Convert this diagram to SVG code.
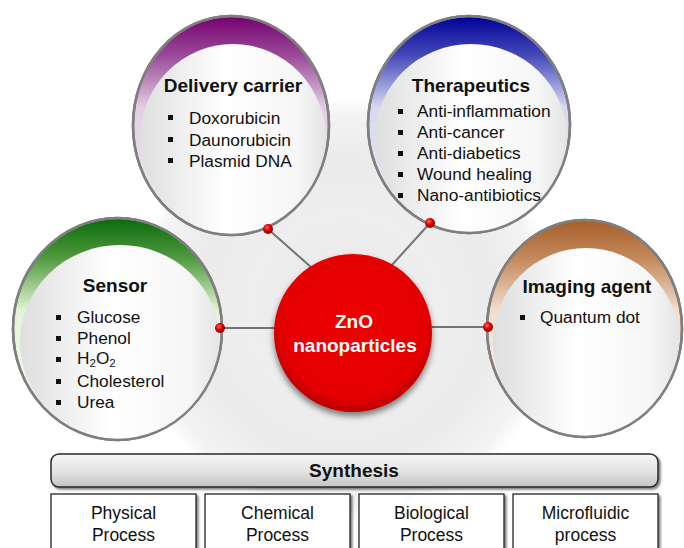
<svg xmlns="http://www.w3.org/2000/svg" width="684" height="548" viewBox="0 0 684 548">
  <defs>
    <radialGradient id="halo" cx="345" cy="310" r="212" gradientUnits="userSpaceOnUse">
      <stop offset="0" stop-color="#e8e8e8"/>
      <stop offset="0.45" stop-color="#eeeeee"/>
      <stop offset="0.7" stop-color="#ebebeb"/>
      <stop offset="0.92" stop-color="#f3f3f3"/>
      <stop offset="1" stop-color="#ffffff"/>
    </radialGradient>
    <linearGradient id="inner" x1="0" y1="0" x2="1" y2="0">
      <stop offset="0" stop-color="#dedede"/>
      <stop offset="0.45" stop-color="#ffffff"/>
      <stop offset="0.85" stop-color="#f6f6f6"/>
      <stop offset="1" stop-color="#e4e4e4"/>
    </linearGradient>
    <linearGradient id="g-purple" x1="0" y1="0" x2="0" y2="1">
      <stop offset="0" stop-color="#76006e"/>
      <stop offset="0.18" stop-color="#9a4a98"/>
      <stop offset="0.42" stop-color="#e2cee4"/>
      <stop offset="1" stop-color="#f6f0f7"/>
    </linearGradient>
    <linearGradient id="g-blue" x1="0" y1="0" x2="0" y2="1">
      <stop offset="0" stop-color="#000096"/>
      <stop offset="0.18" stop-color="#4448b8"/>
      <stop offset="0.42" stop-color="#d6d8f2"/>
      <stop offset="1" stop-color="#f0f1fa"/>
    </linearGradient>
    <linearGradient id="g-green" x1="0" y1="0" x2="0" y2="1">
      <stop offset="0" stop-color="#0a6a0a"/>
      <stop offset="0.18" stop-color="#4f9a3e"/>
      <stop offset="0.42" stop-color="#e4f5d6"/>
      <stop offset="1" stop-color="#f5fbef"/>
    </linearGradient>
    <linearGradient id="g-brown" x1="0" y1="0" x2="0" y2="1">
      <stop offset="0" stop-color="#a65e2a"/>
      <stop offset="0.18" stop-color="#c48a5c"/>
      <stop offset="0.42" stop-color="#f2dfd0"/>
      <stop offset="1" stop-color="#fbf3ec"/>
    </linearGradient>
    <radialGradient id="red" cx="0.5" cy="0.45" r="0.55">
      <stop offset="0" stop-color="#ee0000"/>
      <stop offset="0.85" stop-color="#e40000"/>
      <stop offset="1" stop-color="#b80000"/>
    </radialGradient>
    <radialGradient id="dot" cx="0.4" cy="0.35" r="0.65">
      <stop offset="0" stop-color="#ff6a6a"/>
      <stop offset="0.5" stop-color="#e00000"/>
      <stop offset="1" stop-color="#8a0000"/>
    </radialGradient>
    <linearGradient id="bar" x1="0" y1="0" x2="0" y2="1">
      <stop offset="0" stop-color="#f6f6f6"/>
      <stop offset="0.5" stop-color="#e4e4e4"/>
      <stop offset="1" stop-color="#c4c4c4"/>
    </linearGradient>
    <filter id="shadow" x="-20%" y="-20%" width="140%" height="140%">
      <feGaussianBlur in="SourceAlpha" stdDeviation="3"/>
      <feOffset dx="0" dy="4" result="b"/>
      <feComponentTransfer><feFuncA type="linear" slope="0.5"/></feComponentTransfer>
      <feMerge><feMergeNode/><feMergeNode in="SourceGraphic"/></feMerge>
    </filter>
    <filter id="boxshadow" x="-10%" y="-10%" width="120%" height="130%">
      <feGaussianBlur in="SourceAlpha" stdDeviation="1.2"/>
      <feOffset dx="2" dy="2"/>
      <feComponentTransfer><feFuncA type="linear" slope="0.5"/></feComponentTransfer>
      <feMerge><feMergeNode/><feMergeNode in="SourceGraphic"/></feMerge>
    </filter>
  </defs>
  <style>
    text { font-family: "Liberation Sans", Arial, sans-serif; fill: #111; }
    .title { font-size: 19px; font-weight: bold; text-anchor: middle; }
    .item { font-size: 17.3px; }
    .sub { font-size: 11.5px; }
    .ring { stroke: #7f7f7f; stroke-width: 2.5; }
    .core { fill: url(#inner); }
    .bullet { fill: #111; }
    .link { stroke: #737373; stroke-width: 2; fill: none; }
    .pin { fill: url(#dot); }
    .box { fill: #ffffff; stroke: #222; stroke-width: 1.3; }
    .boxtext { font-size: 17.5px; text-anchor: middle; }
    .zno { font-size: 19px; font-weight: bold; text-anchor: middle; fill: #ffffff; }
  </style>

  <rect width="684" height="548" fill="#ffffff"/>
  <!-- soft halo behind the hub -->
  <circle cx="345" cy="310" r="212" fill="url(#halo)"/>

  <!-- Delivery carrier -->
  <g id="delivery">
    <ellipse class="ring" cx="231" cy="125.5" rx="98" ry="109.5" fill="url(#g-purple)"/>
    <ellipse class="core" cx="233" cy="139" rx="93" ry="95"/>
    <ellipse cx="231" cy="125.5" rx="98" ry="109.5" fill="none" class="ring"/>
    <text class="title" x="233" y="92">Delivery carrier</text>
    <rect class="bullet" x="168" y="115" width="5" height="5"/>
    <rect class="bullet" x="168" y="137" width="5" height="5"/>
    <rect class="bullet" x="168" y="158" width="5" height="5"/>
    <text class="item" x="189" y="124">Doxorubicin</text>
    <text class="item" x="189" y="146">Daunorubicin</text>
    <text class="item" x="189" y="167">Plasmid DNA</text>
  </g>

  <!-- Therapeutics -->
  <g id="therapeutics">
    <ellipse class="ring" cx="469" cy="124.5" rx="101" ry="108.5" fill="url(#g-blue)"/>
    <ellipse class="core" cx="471" cy="138" rx="96" ry="94"/>
    <ellipse cx="469" cy="124.5" rx="101" ry="108.5" fill="none" class="ring"/>
    <text class="title" x="471" y="92">Therapeutics</text>
    <rect class="bullet" x="398" y="109" width="5" height="5"/>
    <rect class="bullet" x="398" y="130" width="5" height="5"/>
    <rect class="bullet" x="398" y="151" width="5" height="5"/>
    <rect class="bullet" x="398" y="172" width="5" height="5"/>
    <rect class="bullet" x="398" y="193" width="5" height="5"/>
    <text class="item" x="417" y="117">Anti-inflammation</text>
    <text class="item" x="417" y="138">Anti-cancer</text>
    <text class="item" x="417" y="159">Anti-diabetics</text>
    <text class="item" x="417" y="180">Wound healing</text>
    <text class="item" x="417" y="201">Nano-antibiotics</text>
  </g>

  <!-- Sensor -->
  <g id="sensor">
    <ellipse class="ring" cx="117.5" cy="329" rx="104.5" ry="111" fill="url(#g-green)"/>
    <ellipse class="core" cx="120" cy="342" rx="100" ry="97"/>
    <ellipse cx="117.5" cy="329" rx="104.5" ry="111" fill="none" class="ring"/>
    <text class="title" x="115" y="292">Sensor</text>
    <rect class="bullet" x="56" y="315" width="5" height="5"/>
    <rect class="bullet" x="56" y="336" width="5" height="5"/>
    <rect class="bullet" x="56" y="357" width="5" height="5"/>
    <rect class="bullet" x="56" y="379" width="5" height="5"/>
    <rect class="bullet" x="56" y="400" width="5" height="5"/>
    <text class="item" x="77" y="323">Glucose</text>
    <text class="item" x="77" y="344">Phenol</text>
    <text class="item" x="77" y="364">H<tspan class="sub" dy="3">2</tspan><tspan dy="-3">O</tspan><tspan class="sub" dy="3">2</tspan></text>
    <text class="item" x="77" y="387">Cholesterol</text>
    <text class="item" x="77" y="408">Urea</text>
  </g>

  <!-- Imaging agent -->
  <g id="imaging">
    <ellipse class="ring" cx="584.5" cy="328.5" rx="97.5" ry="108.5" fill="url(#g-brown)"/>
    <ellipse class="core" cx="586" cy="342" rx="93" ry="94"/>
    <ellipse cx="584.5" cy="328.5" rx="97.5" ry="108.5" fill="none" class="ring"/>
    <text class="title" x="587" y="293">Imaging agent</text>
    <rect class="bullet" x="520" y="315" width="5" height="5"/>
    <text class="item" x="540" y="323">Quantum dot</text>
  </g>

  <!-- Connectors from the hub to each application -->
  <g id="connectors">
    <line class="link" x1="268" y1="229" x2="312" y2="268"/>
    <line class="link" x1="430" y1="223" x2="391" y2="266"/>
    <line class="link" x1="220" y1="328" x2="276" y2="328"/>
    <line class="link" x1="488" y1="327" x2="430" y2="327"/>
    <circle class="pin" cx="268" cy="229" r="5"/>
    <circle class="pin" cx="430" cy="223" r="5"/>
    <circle class="pin" cx="220" cy="328" r="5"/>
    <circle class="pin" cx="488" cy="327" r="5"/>
  </g>

  <!-- Hub -->
  <g id="zno">
    <circle cx="353" cy="333" r="79" fill="url(#red)" filter="url(#shadow)"/>
    <text class="zno" x="354" y="328">ZnO</text>
    <text class="zno" x="355" y="352">nanoparticles</text>
  </g>

  <!-- Synthesis routes -->
  <g id="synthesis">
    <rect x="51" y="454" width="607" height="33" rx="8" fill="url(#bar)" stroke="#2a2a2a" stroke-width="1.5" filter="url(#boxshadow)"/>
    <text class="title" x="354" y="477">Synthesis</text>
  </g>
  <g id="physical">
    <rect class="box" x="51" y="494" width="145" height="60" filter="url(#boxshadow)"/>
    <text class="boxtext" x="123.5" y="519">Physical</text>
    <text class="boxtext" x="123.5" y="541">Process</text>
  </g>
  <g id="chemical">
    <rect class="box" x="205" y="494" width="145" height="60" filter="url(#boxshadow)"/>
    <text class="boxtext" x="277.5" y="519">Chemical</text>
    <text class="boxtext" x="277.5" y="541">Process</text>
  </g>
  <g id="biological">
    <rect class="box" x="359" y="494" width="145" height="60" filter="url(#boxshadow)"/>
    <text class="boxtext" x="431.5" y="519">Biological</text>
    <text class="boxtext" x="431.5" y="541">Process</text>
  </g>
  <g id="microfluidic">
    <rect class="box" x="513" y="494" width="145" height="60" filter="url(#boxshadow)"/>
    <text class="boxtext" x="585.5" y="519">Microfluidic</text>
    <text class="boxtext" x="585.5" y="541">process</text>
  </g>
</svg>
